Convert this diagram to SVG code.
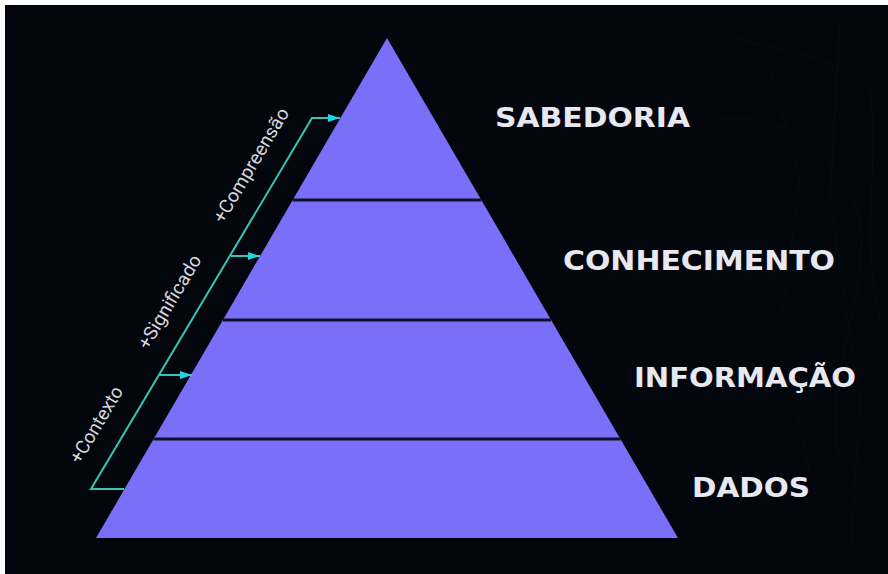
<svg xmlns="http://www.w3.org/2000/svg" width="888" height="574" viewBox="0 0 888 574">
  <defs>
    <style>
      .layer { fill: #7a6ff8; }
      .divider { stroke: #10102c; stroke-width: 3; fill: none; }
      .label { font-family: "DejaVu Sans", "Liberation Sans", sans-serif; font-weight: bold; font-size: 26px; fill: #e8e8f0; }
      .side { font-family: "Roboto", "Liberation Sans", sans-serif; font-size: 19px; fill: #d6d6dc; }
      .conn { stroke: #33c7b2; stroke-width: 2; fill: none; }
      .deco { stroke: #ffffff; stroke-opacity: 0.025; stroke-width: 1; fill: none; }
    </style>
    <marker id="arrow" markerUnits="userSpaceOnUse" markerWidth="13" markerHeight="9" refX="12" refY="4" orient="auto">
      <path d="M0,0 L12,4 L0,8 Z" fill="#22d3e3"/>
    </marker>
  </defs>

  <rect x="0" y="0" width="888" height="574" fill="#ffffff"/>
  <rect x="5" y="5" width="883" height="569" fill="#04060e"/>

  <g id="background-texture">
    <path class="deco" d="M700,20 C760,60 820,40 870,90 C880,160 860,240 880,320"/>
    <path class="deco" d="M720,120 C780,110 840,150 860,220 C870,300 820,380 840,460"/>
    <path class="deco" d="M760,30 L800,180 L780,330 L820,520"/>
    <path class="deco" d="M840,20 L830,200 L860,400 L850,560"/>
    <path class="deco" d="M700,380 C760,420 800,480 860,500"/>
  </g>

  <g id="node-sabedoria">
    <polygon class="layer" points="387,38 481.3,200 292.7,200"/>
    <text class="label" x="495" y="127" textLength="195" lengthAdjust="spacingAndGlyphs">SABEDORIA</text>
  </g>
  <g id="node-conhecimento">
    <polygon class="layer" points="292.7,200 481.3,200 551.1,320 222.9,320"/>
    <text class="label" x="563" y="270" textLength="272" lengthAdjust="spacingAndGlyphs">CONHECIMENTO</text>
  </g>
  <g id="node-informacao">
    <polygon class="layer" points="222.9,320 551.1,320 620.4,439 153.6,439"/>
    <text class="label" x="634" y="387" textLength="222" lengthAdjust="spacingAndGlyphs">INFORMAÇÃO</text>
  </g>
  <g id="node-dados">
    <polygon class="layer" points="153.6,439 620.4,439 678,538 96,538"/>
    <text class="label" x="692" y="497" textLength="118" lengthAdjust="spacingAndGlyphs">DADOS</text>
  </g>

  <g id="dividers">
    <line class="divider" x1="292.7" y1="200" x2="481.3" y2="200"/>
    <line class="divider" x1="222.9" y1="320" x2="551.1" y2="320"/>
    <line class="divider" x1="153.6" y1="439" x2="620.4" y2="439"/>
  </g>

  <g id="connectors">
    <path class="conn" d="M124,489 H91 L312,118 H340" marker-end="url(#arrow)"/>
    <path class="conn" d="M231,256 H260" marker-end="url(#arrow)"/>
    <path class="conn" d="M159,375 H192" marker-end="url(#arrow)"/>
  </g>

  <g id="side-labels" transform="translate(91,489) rotate(-59.2)">
    <text class="side" x="15" y="-22" textLength="86" lengthAdjust="spacingAndGlyphs">+Contexto</text>
    <text class="side" x="148" y="-22" textLength="106" lengthAdjust="spacingAndGlyphs">+Significado</text>
    <text class="side" x="295" y="-22" textLength="130" lengthAdjust="spacingAndGlyphs">+Compreensão</text>
  </g>
</svg>
